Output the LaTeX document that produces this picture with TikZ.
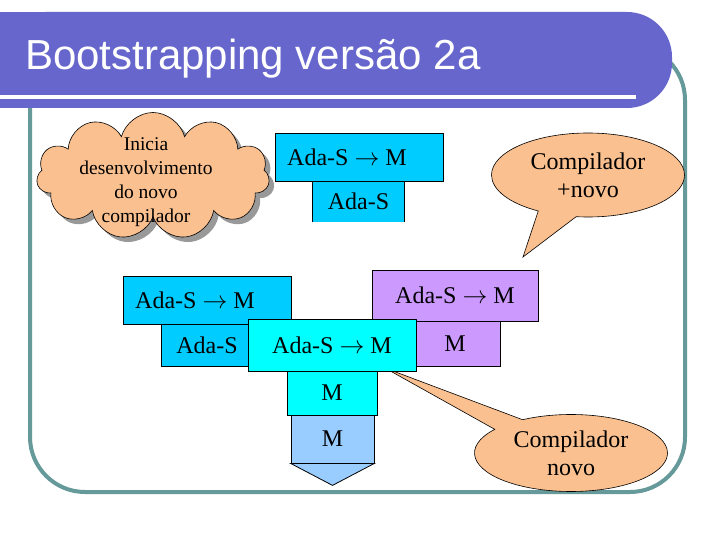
\documentclass[tikz,border=0pt]{standalone}
\usepackage{fontspec}
\setmainfont{Liberation Serif}
\newfontfamily\titlefont{Liberation Sans}
\usepackage{xcolor}
\usepackage{tikz}
\usetikzlibrary{shapes, arrows, positioning, calc, shadows}

\definecolor{barblue}{RGB}{102,102,204}
\definecolor{frameteal}{RGB}{102,153,153}
\definecolor{skyblue}{RGB}{0,204,255}
\definecolor{brightcyan}{RGB}{0,255,255}
\definecolor{lilac}{RGB}{204,153,255}
\definecolor{paleblue}{RGB}{153,204,255}
\definecolor{peach}{RGB}{250,192,143}

\tikzset{
  tbox/.style={draw=black, line width=0.8pt, rectangle, inner sep=0pt, font=\fontsize{24}{28}\selectfont},
  callbox/.style={ellipse callout, draw=black, line width=0.6pt, fill=peach, inner sep=0pt, align=center, font=\fontsize{24}{28}\selectfont},
}

\begin{document}
\begin{tikzpicture}[x=1pt, y=-1pt]
  \useasboundingbox (0,0) rectangle (720,540);

  % Frame
  \draw[frameteal, line width=4pt, rounded corners=55pt] (30,45) rectangle (685,492);

  % Title bar
  \fill[barblue, rounded corners=45pt] (0,12) -- (672,12) -- (672,108) -- (0,108) -- cycle;
  \fill[barblue] (0,12) rectangle (100,108);
  \draw[white, line width=3.5pt] (0,97) -- (636,97);
  \node[anchor=base west, white, inner sep=0pt, font=\titlefont\fontsize{42}{48}\selectfont] (title) at (25,70) {Bootstrapping versão 2a};

  % Cloud
  \node[cloud, cloud puffs=11, cloud ignores aspect, minimum width=233pt, minimum height=127pt,
        draw=black, line width=0.6pt, fill=peach, inner sep=0pt,
        drop shadow={shadow xshift=5pt, shadow yshift=-5pt, fill=gray!80, opacity=1}] (idea) at (153,176) {};
  \node[align=center, inner sep=0pt, font=\fontsize{19.5}{24}\selectfont] (ideatext) at (146,182) {Inicia\\desenvolvimento\\do novo\\compilador};

  % Compiler to be written
  \node[fill=skyblue, inner sep=0pt, minimum width=91pt, minimum height=41pt, font=\fontsize{24}{28}\selectfont] (topsrc) at (358.5,201.5) {Ada-S};
  \draw[line width=0.8pt] (topsrc.south west) -- (topsrc.north west) (topsrc.north east) -- (topsrc.south east);
  \node[tbox, fill=skyblue, minimum width=168pt, minimum height=48pt] (topmap) at (359,157) {Ada-S $\rightarrow$ M\hspace*{24pt}};

  % Callouts
  \coordinate (tipA) at (523,257);
  \node[callbox, minimum width=193pt, minimum height=84pt, callout absolute pointer={(tipA)}, callout pointer arc=24] (cplus) at (588,175) {Compilador\\+novo};
  \coordinate (tipB) at (385,368);
  \node[callbox, minimum width=193pt, minimum height=77pt, callout absolute pointer={(tipB)}, callout pointer arc=22] (cnew) at (571,453) {Compilador\\novo};

  % Existing compiler
  \node[tbox, fill=skyblue, minimum width=92pt, minimum height=42pt] (midsrc) at (207,345) {Ada-S};
  \node[tbox, fill=skyblue, minimum width=168pt, minimum height=48pt] (midmap) at (207,300) {Ada-S $\rightarrow$ M\hspace*{24pt}};

  % New compiler
  \node[tbox, fill=lilac, minimum width=90pt, minimum height=45pt] (newtgt) at (455,343.5) {M};
  \node[tbox, fill=lilac, minimum width=166pt, minimum height=51pt] (newmap) at (455,295.5) {Ada-S $\rightarrow$ M};

  % Compiled compiler
  \node[tbox, fill=brightcyan, minimum width=90pt, minimum height=44pt] (cyantgt) at (332,393) {M};
  \node[tbox, fill=brightcyan, minimum width=168pt, minimum height=52pt] (cyanmap) at (332,345) {Ada-S $\rightarrow$ M};

  % Machine
  \node[tbox, fill=paleblue, minimum width=83pt, minimum height=48pt] (machine) at (332.5,439) {M};
  \draw[fill=paleblue, line width=0.8pt] (machine.south west) -- (machine.south east) -- ($(machine.south)+(0,22)$) -- cycle;
\end{tikzpicture}
\end{document}
